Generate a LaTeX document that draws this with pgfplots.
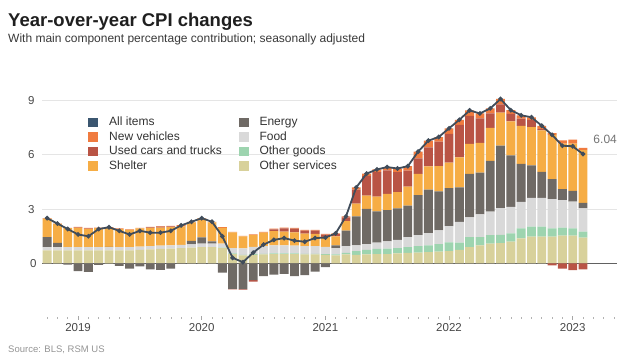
\documentclass[border=0pt]{standalone}
\usepackage{pgfplots}
\pgfplotsset{compat=1.18}
\usepackage{pgfplotstable}
\usepackage{fontspec}
\setmainfont{Liberation Sans}
\definecolor{allc}{HTML}{3B5670}
\definecolor{linec}{HTML}{404C5A}
\definecolor{newc}{HTML}{F07B3F}
\definecolor{usedc}{HTML}{B95445}
\definecolor{shelc}{HTML}{F6AD45}
\definecolor{enc}{HTML}{6F6A65}
\definecolor{foodc}{HTML}{D9D9D9}
\definecolor{ogc}{HTML}{9DD4AF}
\definecolor{osc}{HTML}{D8D19B}

\pgfplotstableread{
idx os og f ep en s up un n tot
0 0.72 0 0.18 0.56 0 1.02 0 0 0.02 2.50
1 0.72 0 0.18 0.23 0 1.05 0 0 0.02 2.20
2 0.72 0 0.18 0 -0.07 1.05 0 0 0.02 1.90
3 0.72 0 0.18 0 -0.42 1.06 0.02 0 0.04 1.60
4 0.72 0 0.18 0 -0.46 1.00 0.02 0 0.04 1.50
5 0.72 0 0.18 0 -0.08 1.05 0 0 0.03 1.90
6 0.72 0 0.18 0.02 0 1.05 0 0 0.03 2.00
7 0.72 0 0.18 0 -0.13 1.00 0 0 0.03 1.80
8 0.72 0 0.18 0 -0.28 0.95 0 0 0.03 1.60
9 0.75 0 0.18 0 -0.16 1.00 0 0 0.03 1.80
10 0.78 0 0.18 0 -0.32 1.00 0.03 0 0.03 1.70
11 0.80 0 0.18 0 -0.36 1.00 0.05 0 0.03 1.70
12 0.82 0 0.18 0 -0.28 1.00 0.05 0 0.03 1.80
13 0.85 0 0.18 0 -0.01 1.02 0.03 0 0.03 2.10
14 0.88 0 0.18 0.18 0 1.03 0 0 0.03 2.30
15 0.90 0 0.20 0.34 0 1.03 0 0 0.03 2.50
16 0.90 0 0.20 0.12 0 1.05 0 0 0.03 2.30
17 0.85 0.02 0.22 0 -0.50 0.88 0 0 0.03 1.50
18 0.52 0.03 0.30 0 -1.41 0.86 0 -0.02 0.03 0.31
19 0.45 0.03 0.35 0 -1.42 0.66 0 -0.03 0.03 0.07
20 0.48 0.03 0.40 0 -0.92 0.66 0 -0.08 0.03 0.60
21 0.50 0.03 0.42 0 -0.70 0.75 0 0 0.04 1.04
22 0.52 0.03 0.45 0 -0.62 0.78 0.10 0 0.04 1.30
23 0.52 0.03 0.45 0 -0.58 0.76 0.18 0 0.04 1.40
24 0.52 0.03 0.43 0 -0.70 0.74 0.20 0 0.04 1.26
25 0.50 0.03 0.42 0 -0.65 0.70 0.16 0 0.04 1.20
26 0.50 0.03 0.42 0 -0.45 0.68 0.18 0 0.04 1.40
27 0.48 0.04 0.40 0 -0.20 0.55 0.12 0 0.04 1.43
28 0.45 0.05 0.35 0.15 0 0.50 0.12 0 0.04 1.66
29 0.50 0.08 0.38 0.85 0 0.52 0.22 0 0.05 2.60
30 0.48 0.20 0.32 1.60 0 0.70 0.78 0 0.12 4.20
31 0.50 0.25 0.32 1.95 0 0.72 1.10 0 0.12 4.96
32 0.52 0.28 0.35 1.72 0 0.82 1.35 0 0.15 5.19
33 0.52 0.30 0.40 1.72 0 0.90 1.30 0 0.18 5.32
34 0.55 0.30 0.45 1.74 0 0.90 1.10 0 0.20 5.24
35 0.58 0.32 0.55 1.74 0 1.05 0.88 0 0.25 5.37
36 0.60 0.35 0.62 2.20 0 1.18 0.85 0 0.37 6.17
37 0.62 0.38 0.68 2.40 0 1.28 1.05 0 0.37 6.78
38 0.65 0.42 0.76 2.15 0 1.40 1.35 0 0.25 6.98
39 0.68 0.48 0.90 2.10 0 1.40 1.60 0 0.30 7.46
40 0.75 0.40 1.15 1.90 0 1.65 1.80 0 0.28 7.93
41 0.90 0.55 1.10 2.40 0 1.65 1.55 0 0.30 8.45
42 1.00 0.46 1.25 2.30 0 1.65 1.35 0 0.27 8.28
43 1.10 0.46 1.30 2.80 0 1.83 0.80 0 0.27 8.56
44 1.12 0.46 1.47 3.45 0 1.83 0.45 0 0.30 9.08
45 1.20 0.46 1.47 2.84 0 1.87 0.42 0 0.20 8.46
46 1.38 0.55 1.47 2.10 0 2.10 0.40 0 0.18 8.18
47 1.48 0.55 1.59 1.80 0 2.10 0.40 0 0.15 8.07
48 1.48 0.55 1.59 1.43 0 2.29 0.08 0 0.18 7.60
49 1.48 0.46 1.61 1.10 0 2.45 0 -0.10 0.10 7.10
50 1.54 0.44 1.52 0.60 0 2.51 0 -0.29 0.18 6.50
51 1.54 0.40 1.47 0.59 0 2.62 0 -0.37 0.22 6.47
52 1.43 0.33 1.28 0.31 0 2.90 0 -0.33 0.13 6.04
}\cpi

\pgfplotsset{
  common/.style={scale only axis, width=575pt, height=222.8pt,
    xmin=-0.5, xmax=55.3, ymin=-3, ymax=9.3, enlargelimits=false,
    at={(42pt,43.2pt)}, anchor=south west},
  sq/.style={legend image code/.code={\fill[#1] (0pt,-4.3pt) rectangle (9pt,4.3pt);}},
}

\begin{document}
\begin{tikzpicture}
\path[use as bounding box] (0,0) rectangle (630pt,361pt);
\node[anchor=base west, inner sep=0pt, font=\fontsize{18.5}{22}\selectfont\bfseries, text=black!88] at (8pt,334pt) {Year-over-year CPI changes};
\node[anchor=base west, inner sep=0pt, font=\fontsize{12}{14}\selectfont, text=black!78] at (8pt,318pt) {With main component percentage contribution; seasonally adjusted};
\node[anchor=base west, inner sep=0pt, font=\fontsize{9.5}{11}\selectfont, text=black!42] at (8pt,8pt) {Source: BLS, RSM US};

\begin{axis}[common,
  ybar stacked, bar width=0.86,
  axis x line*=bottom, axis y line*=left, axis line style={draw=none},
  xtick={3,15,27,39,51}, xticklabels={2019,2020,2021,2022,2023},
  minor xtick={0,...,55},
  x tick style={color=black!35, line width=0.6pt},
  minor x tick style={color=black!30, line width=0.6pt},
  major tick length=4pt, minor tick length=1.8pt, tick align=center,
  xticklabel style={font=\fontsize{11.5}{13}\selectfont, text=black!72},
  ytick={3,6,9}, y tick style={draw=none},
  extra y ticks={0}, extra y tick labels={0},
  extra y tick style={grid style={color=black!62, line width=0.8pt}, major tick length=0pt},
  ymajorgrids, grid style={color=black!10, line width=0.6pt},
  yticklabel style={font=\fontsize{11.5}{13}\selectfont, text=black!72, xshift=-2pt},
  /pgf/number format/assume math mode=true,
  legend columns=2, legend cell align=left,
  legend style={at={(0.08,0.908)}, anchor=north west, draw=none, fill=none, inner sep=0pt,
    font=\fontsize{12}{14}\selectfont, text=black!80, row sep=1.1pt,
    nodes={inner sep=1.6pt},
    /tikz/every even column/.append style={column sep=15pt},
    /tikz/every odd column/.append style={column sep=10pt}},
]
\addplot[fill=osc, draw=none, forget plot] table[x=idx,y=os]{\cpi};
\addplot[fill=ogc, draw=none, forget plot] table[x=idx,y=og]{\cpi};
\addplot[fill=foodc, draw=none, forget plot] table[x=idx,y=f]{\cpi};
\addplot[fill=enc, draw=none, forget plot] table[x=idx,y=ep]{\cpi};
\addplot[fill=shelc, draw=none, forget plot] table[x=idx,y=s]{\cpi};
\addplot[fill=usedc, draw=none, forget plot] table[x=idx,y=up]{\cpi};
\addplot[fill=newc, draw=none, forget plot] table[x=idx,y=n]{\cpi};
\addlegendimage{sq=allc}\addlegendentry{All items}
\addlegendimage{sq=enc}\addlegendentry{Energy}
\addlegendimage{sq=newc}\addlegendentry{New vehicles}
\addlegendimage{sq=foodc}\addlegendentry{Food}
\addlegendimage{sq=usedc}\addlegendentry{Used cars and trucks}
\addlegendimage{sq=ogc}\addlegendentry{Other goods}
\addlegendimage{sq=shelc}\addlegendentry{Shelter}
\addlegendimage{sq=osc}\addlegendentry{Other services}
\end{axis}

\begin{axis}[common, hide axis, ybar stacked, bar width=0.86]
\addplot[fill=enc, draw=none] table[x=idx,y=en]{\cpi};
\addplot[fill=usedc, draw=none] table[x=idx,y=un]{\cpi};
\end{axis}

\begin{axis}[common, hide axis]
\addplot[linec, line width=1.8pt, mark=*, mark size=1.3pt, mark options={fill=linec}] table[x=idx,y=tot]{\cpi};
\node[anchor=west, inner sep=0pt, text=black!55, font=\fontsize{12}{14}\selectfont] at (axis cs:53.0,6.87) {6.04};
\end{axis}
\end{tikzpicture}
\end{document}
